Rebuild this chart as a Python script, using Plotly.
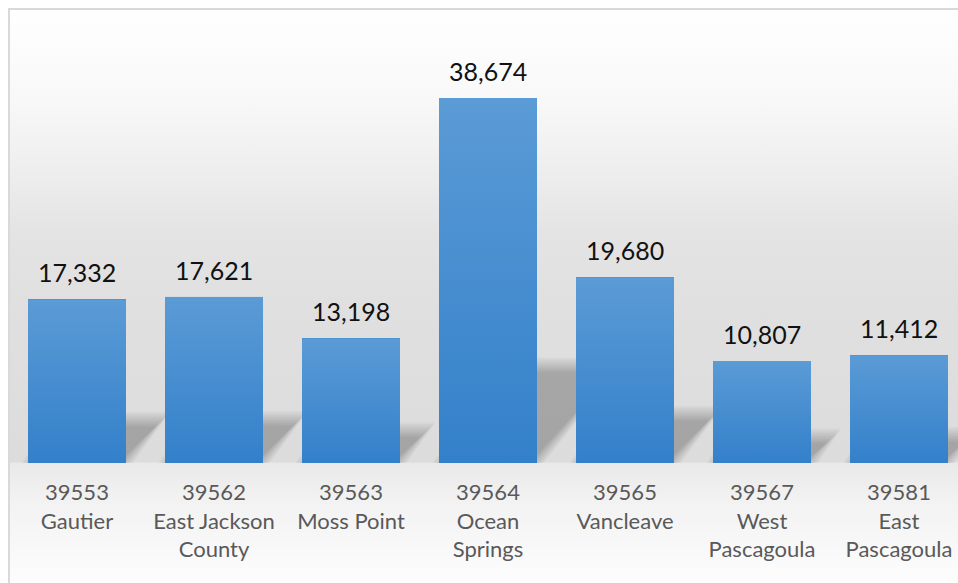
import base64
import plotly.graph_objects as go

# ZIP code areas and their values
zip_codes = ["39553", "39562", "39563", "39564", "39565", "39567", "39581"]
areas = ["Gautier", "East Jackson<br>County", "Moss Point", "Ocean<br>Springs",
         "Vancleave", "West<br>Pascagoula", "East<br>Pascagoula"]
values = [17332, 17621, 13198, 38674, 19680, 10807, 11412]

# figure geometry
W, H = 958, 583
M_L, M_R, M_T, M_B = 8, 0, 8, 120
PLOT_W = W - M_L - M_R
PLOT_H = H - M_T - M_B
SLOT_PX = 137          # pixels per category slot
FIRST_CENTER_PX = 77   # centre of first category, from left edge
Y_MAX = 48200
BAR_W = 0.715

x_lo = (M_L - FIRST_CENTER_PX) / SLOT_PX
x_hi = x_lo + PLOT_W / SLOT_PX
px_per_y = PLOT_H / Y_MAX

FONT = "Lato"
xs = list(range(len(values)))
ticktext = [f"{z}<br>{a}" for z, a in zip(zip_codes, areas)]


def svg_uri(svg):
    return "data:image/svg+xml;base64," + base64.b64encode(svg.encode()).decode()


# chart background: soft vertical gradient plus thin border
bg_svg = f"""<svg xmlns='http://www.w3.org/2000/svg' width='{W}' height='{H}' viewBox='0 0 {W} {H}' preserveAspectRatio='none'>
<defs><linearGradient id='bg' gradientUnits='userSpaceOnUse' x1='0' y1='9' x2='0' y2='{H}'>
<stop offset='{(9-9)/(H-9):.4f}' stop-color='#ffffff'/>
<stop offset='{(100-9)/(H-9):.4f}' stop-color='#f8f8f8'/>
<stop offset='{(170-9)/(H-9):.4f}' stop-color='#eeeeee'/>
<stop offset='{(230-9)/(H-9):.4f}' stop-color='#e4e4e4'/>
<stop offset='{(300-9)/(H-9):.4f}' stop-color='#e0e0e0'/>
<stop offset='{(462-9)/(H-9):.4f}' stop-color='#dcdcdc'/>
<stop offset='{(463-9)/(H-9):.4f}' stop-color='#e9e9e9'/>
<stop offset='{(500-9)/(H-9):.4f}' stop-color='#f2f2f2'/>
<stop offset='1' stop-color='#fdfdfd'/>
</linearGradient></defs>
<rect x='9' y='9' width='{W}' height='{H}' fill='url(#bg)'/>
<rect x='9' y='9' width='{W+10}' height='{H+10}' fill='none' stroke='#d9d9d9' stroke-width='2'/>
</svg>"""

bar_svg = """<svg xmlns='http://www.w3.org/2000/svg' width='10' height='100' viewBox='0 0 10 100' preserveAspectRatio='none'>
<defs><linearGradient id='g' x1='0' y1='0' x2='0' y2='1'>
<stop offset='0' stop-color='#5b9bd6'/><stop offset='1' stop-color='#3380ca'/>
</linearGradient></defs><rect width='10' height='100' fill='url(#g)'/></svg>"""

fig = go.Figure()

# perspective shadows behind the bars, built from several soft layers
SH_FRAC = 0.27
SKEW = 0.85
blur_offsets = [-8, -6.5, -5, -3.5, -2, -0.5, 1, 2.5, 4, 5.5, 7]
for d in blur_offsets:
    sx, sy = [], []
    for x, v in zip(xs, values):
        sh_px = v * px_per_y * SH_FRAC
        dx = SKEW * sh_px / SLOT_PX
        xl = x - BAR_W / 2 - d / SLOT_PX
        xr = x + BAR_W / 2 + d / SLOT_PX
        top = max(sh_px + d, 1) / px_per_y
        sx += [xl, xr, xr + dx, xl + dx, xl, None]
        sy += [0, 0, top, top, 0, None]
    fig.add_trace(go.Scatter(x=sx, y=sy, mode="lines", line=dict(width=0),
                             fill="toself", fillcolor="rgba(0,0,0,0.022)",
                             hoverinfo="skip", showlegend=False))

fig.add_trace(go.Bar(x=xs, y=values, width=BAR_W, marker=dict(color="#4a8fd2", line=dict(width=0)),
                     showlegend=False, hovertemplate="%{y:,}<extra></extra>"))

images = [dict(source=svg_uri(bg_svg), xref="paper", yref="paper",
               x=-M_L / PLOT_W, y=1 + M_T / PLOT_H, sizex=W / PLOT_W, sizey=H / PLOT_H,
               xanchor="left", yanchor="top", sizing="stretch", layer="below")]
for x, v in zip(xs, values):
    images.append(dict(source=svg_uri(bar_svg), xref="x", yref="y",
                       x=x - BAR_W / 2, y=v, sizex=BAR_W, sizey=v,
                       xanchor="left", yanchor="top", sizing="stretch", layer="above"))

annotations = [dict(x=x, y=v, xref="x", yref="y", text=f"{v:,}", showarrow=False,
                    yanchor="bottom", yshift=10,
                    font=dict(family=FONT, size=25, color="#111111"))
               for x, v in zip(xs, values)]

fig.update_layout(
    width=W, height=H,
    margin=dict(l=M_L, r=M_R, t=M_T, b=M_B, pad=0),
    paper_bgcolor="white", plot_bgcolor="rgba(0,0,0,0)",
    images=images, annotations=annotations, bargap=0,
    xaxis=dict(range=[x_lo, x_hi], tickmode="array", tickvals=xs, ticktext=ticktext,
               showgrid=False, zeroline=False, showline=False, ticks="",
               tickfont=dict(family=FONT, size=22, color="#595959"), ticklabelstandoff=14),
    yaxis=dict(range=[0, Y_MAX], visible=False, showgrid=False, zeroline=False),
    hovermode="closest",
)

fig.write_html("out.html")
